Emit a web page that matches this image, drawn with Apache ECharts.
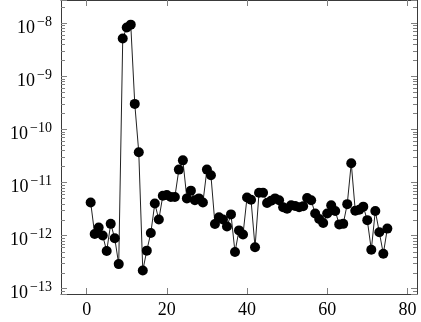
<!DOCTYPE html>
<html>
<head>
<meta charset="utf-8">
<script src="https://cdn.jsdelivr.net/npm/echarts@6/dist/echarts.min.js"></script>
<style>
  html, body { margin: 0; padding: 0; background: #fff; }
  #main { width: 421px; height: 322px; }
</style>
</head>
<body>
<div id="main"></div>
<script>
// values, x = 1..75
var values = [
    4.2e-12, 1.07e-12, 1.42e-12, 1.0e-12, 5.1e-13, 1.66e-12, 8.9e-13, 2.9e-13, 5.1e-9, 8.2e-9,
    9.3e-9, 3.0e-10, 3.7e-11, 2.2e-13, 5.2e-13, 1.12e-12, 4.0e-12, 2.0e-12, 5.6e-12, 5.8e-12,
    5.3e-12, 5.3e-12, 1.74e-11, 2.6e-11, 5.0e-12, 7.0e-12, 4.6e-12, 5.0e-12, 4.2e-12, 1.74e-11,
    1.36e-11, 1.65e-12, 2.2e-12, 2.0e-12, 1.48e-12, 2.5e-12, 4.9e-13, 1.25e-12, 1.05e-12, 5.2e-12,
    4.7e-12, 6.0e-13, 6.4e-12, 6.4e-12, 4.1e-12, 4.5e-12, 5.0e-12, 4.6e-12, 3.4e-12, 3.2e-12,
    3.7e-12, 3.6e-12, 3.4e-12, 3.55e-12, 5.1e-12, 4.6e-12, 2.6e-12, 2.04e-12, 1.72e-12, 2.6e-12,
    3.7e-12, 2.9e-12, 1.62e-12, 1.66e-12, 3.9e-12, 2.3e-11, 2.93e-12, 3.05e-12, 3.5e-12, 1.95e-12,
    5.4e-13, 2.9e-12, 1.15e-12, 4.55e-13, 1.35e-12
];
var xTicks = [0, 20, 40, 60, 80];
var minorMantissas = [2, 3, 4, 5, 6, 7, 8, 9];
var decades = [-14, -13, -12, -11, -10, -9, -8];

var xMin = -6.4, xMax = 82.4;
var yMin = Math.pow(10, -13.1), yMax = Math.pow(10, -7.568);

var points = values.map(function(v, i) { return [i + 1, v]; });

var minorTicks = [];
decades.forEach(function(e) {
    minorMantissas.forEach(function(m) {
        var v = m * Math.pow(10, e);
        if (v > yMin && v < yMax) minorTicks.push([0, v]);
    });
});

var serif = '"Liberation Serif", "DejaVu Serif", serif';
var frameColor = '#3a3a3a';
var tickColor = '#808080';

var myChart = echarts.init(document.getElementById('main'), null, { renderer: 'canvas' });

var yLabel = {
    fontFamily: serif,
    color: '#000',
    margin: 9,
    padding: [10, 0, 0, 0],
    formatter: function(v) {
        var l = Math.log10(v);
        var e = Math.round(l);
        if (Math.abs(l - e) > 1e-6) return '';
        return '{b|10}{s|\u2212' + (-e) + '}';
    },
    rich: {
        b: { fontFamily: serif, fontSize: 18, lineHeight: 26, color: '#000' },
        s: { fontFamily: serif, fontSize: 14, lineHeight: 14, verticalAlign: 'top', padding: [0, 0, 0, 2], color: '#000' }
    }
};

var option = {
    animation: false,
    backgroundColor: '#fff',
    grid: { left: 61, right: 4, top: 0, bottom: 28, outerBoundsMode: 'none' },
    xAxis: [{
        type: 'value',
        min: xMin,
        max: xMax,
        position: 'bottom',
        axisLine: { show: true, onZero: false, lineStyle: { color: frameColor, width: 1 } },
        axisTick: { show: true, inside: true, length: 6, customValues: xTicks, lineStyle: { color: tickColor } },
        axisLabel: { show: true, customValues: xTicks, margin: 7, fontFamily: serif, fontSize: 18, color: '#000' },
        splitLine: { show: false }
    }, {
        type: 'value',
        min: xMin,
        max: xMax,
        position: 'top',
        axisLine: { show: true, onZero: false, lineStyle: { color: frameColor, width: 1 } },
        axisTick: { show: true, inside: true, length: 6, customValues: xTicks, lineStyle: { color: tickColor } },
        axisLabel: { show: false },
        splitLine: { show: false }
    }],
    yAxis: [{
        type: 'log',
        logBase: 10,
        min: yMin,
        max: yMax,
        position: 'left',
        axisLine: { show: true, onZero: false, lineStyle: { color: frameColor, width: 1 } },
        axisTick: { show: true, inside: true, length: 6, lineStyle: { color: tickColor } },
        axisLabel: yLabel,
        splitLine: { show: false }
    }, {
        type: 'log',
        logBase: 10,
        min: yMin,
        max: yMax,
        position: 'right',
        axisLine: { show: true, onZero: false, lineStyle: { color: frameColor, width: 1 } },
        axisTick: { show: true, inside: true, length: 6, lineStyle: { color: tickColor } },
        axisLabel: { show: false },
        splitLine: { show: false }
    }],
    series: [{
        type: 'custom',
        xAxisIndex: 0,
        yAxisIndex: 0,
        silent: true,
        data: minorTicks,
        renderItem: function(params, api) {
            var p = api.coord([0, api.value(1)]);
            var cs = params.coordSys;
            var y = Math.round(p[1]) + 0.5;
            return {
                type: 'group',
                children: [{
                    type: 'line',
                    shape: { x1: cs.x, y1: y, x2: cs.x + 4, y2: y },
                    style: { stroke: tickColor, lineWidth: 1 }
                }, {
                    type: 'line',
                    shape: { x1: cs.x + cs.width - 4, y1: y, x2: cs.x + cs.width, y2: y },
                    style: { stroke: tickColor, lineWidth: 1 }
                }]
            };
        }
    }, {
        type: 'line',
        xAxisIndex: 0,
        yAxisIndex: 0,
        data: points,
        symbol: 'circle',
        symbolSize: 10,
        showSymbol: true,
        lineStyle: { color: '#222', width: 1 },
        itemStyle: { color: '#000' },
        emphasis: { disabled: true }
    }]
};

myChart.setOption(option);
</script>
</body>
</html>
